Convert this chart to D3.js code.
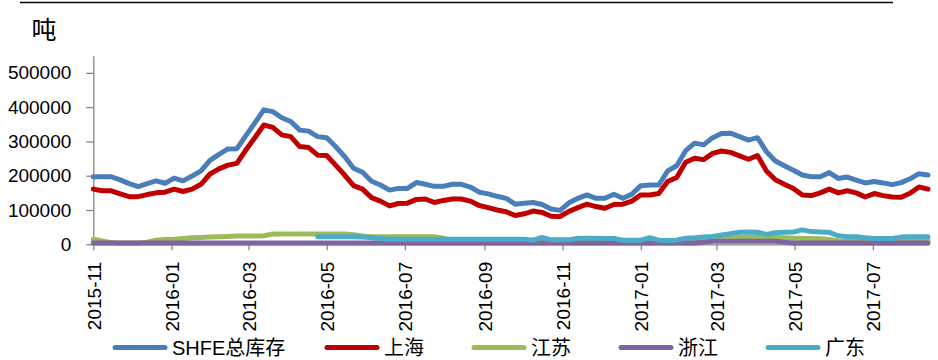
<!DOCTYPE html>
<html>
<head>
<meta charset="utf-8">
<script src="https://cdn.jsdelivr.net/npm/d3@7/dist/d3.min.js"></script>
<style>
  html, body { margin: 0; padding: 0; background: #fff; }
  svg { display: block; }
</style>
</head>
<body>
<svg id="chart" width="938" height="360"></svg>
<script>
// Weekly copper warehouse stocks (tonnes), first report 2015-11-06
const firstReport = "2015-11-06";

const seriesNames = ["SHFE总库存", "上海", "江苏", "浙江", "广东"];

const shfeTotal = [
  197000, 197000, 197000, 188000, 177000, 168000, 177000, 185000, 178000, 193000,
  185000, 199000, 214000, 245000, 262000, 278000, 279000, 317000, 354000, 392000,
  387000, 369000, 358000, 333000, 330000, 314000, 311000, 285000, 256000, 222000,
  210000, 184000, 173000, 158000, 163000, 163000, 180000, 175000, 169000, 169000,
  175000, 175000, 167000, 152000, 147000, 140000, 134000, 117000, 120000, 122000,
  116000, 103000, 99000, 121000, 134000, 144000, 134000, 134000, 146000, 134000,
  146000, 171000, 173000, 173000, 214000, 229000, 273000, 295000, 290000, 311000,
  323000, 324000, 314000, 304000, 311000, 270000, 243000, 229000, 216000, 202000,
  197000, 197000, 209000, 192000, 196000, 187000, 179000, 183000, 179000, 174000,
  180000, 191000, 206000, 202000
];

const shanghai = [
  161000, 156000, 156000, 147000, 139000, 139000, 145000, 150000, 152000, 161000,
  154000, 161000, 175000, 205000, 220000, 231000, 236000, 275000, 311000, 348000,
  341000, 319000, 314000, 285000, 282000, 260000, 259000, 231000, 202000, 171000,
  161000, 136000, 126000, 112000, 119000, 120000, 131000, 132000, 122000, 128000,
  132000, 132000, 126000, 113000, 107000, 100000, 95000, 84000, 89000, 97000,
  93000, 82000, 81000, 96000, 107000, 117000, 110000, 105000, 116000, 117000,
  126000, 144000, 144000, 148000, 183000, 195000, 239000, 251000, 247000, 265000,
  272000, 268000, 258000, 248000, 259000, 214000, 188000, 175000, 163000, 144000,
  142000, 150000, 161000, 150000, 156000, 150000, 138000, 148000, 142000, 138000,
  137000, 149000, 167000, 161000
];

const jiangsu = [
  15000, 10000, 5000, 4000, 4000, 4000, 6000, 12000, 14000, 15000,
  17000, 19000, 20000, 21000, 22000, 23000, 24000, 24000, 24000, 25000,
  30000, 30000, 30000, 30000, 30000, 30000, 30000, 30000, 30000, 28000,
  24000, 22000, 22000, 22000, 22000, 22000, 22000, 22000, 22000, 18000,
  10000, 10000, 10000, 10000, 10000, 10000, 10000, 10000, 10000, 10000,
  10000, 10000, 10000, 10000, 10000, 10000, 10000, 10000, 10000, 10000,
  10000, 10000, 10000, 10000, 10000, 10000, 10000, 10000, 10000, 12000,
  15000, 18000, 20000, 21000, 21000, 20000, 20000, 19000, 18000, 17000,
  17000, 16000, 14000, 10000, 8000, 8000, 8000, 8000, 8000, 10000,
  11000, 11000, 11000, 11000
];

const zhejiang = [
  4000, 4000, 4000, 4000, 4000, 4000, 4000, 4000, 4000, 4000,
  4000, 4000, 4000, 4000, 4000, 4000, 4000, 4000, 4000, 4000,
  4000, 4000, 4000, 4000, 4000, 4000, 4000, 4000, 4000, 4000,
  4000, 4000, 4000, 4000, 4000, 4000, 4000, 4000, 4000, 4000,
  4000, 4000, 4000, 4000, 4000, 4000, 4000, 4000, 4000, 4000,
  4000, 4000, 4000, 4000, 4000, 4000, 4000, 4000, 4000, 4000,
  4000, 4000, 4000, 4000, 4000, 4000, 4000, 4000, 6000, 9000,
  9000, 9000, 9000, 9000, 9000, 9000, 9000, 6000, 4000, 4000,
  4000, 4000, 4000, 4000, 4000, 4000, 4000, 4000, 4000, 4000,
  4000, 4000, 4000, 4000
];

// Guangdong reporting starts in May 2016
const guangdong = [
  null, null, null, null, null, null, null, null, null, null,
  null, null, null, null, null, null, null, null, null, null,
  null, null, null, null, null, 22000, 22000, 22000, 22000, 22000,
  21000, 19000, 17000, 15000, 15000, 15000, 15000, 15000, 15000, 15000,
  15000, 15000, 15000, 15000, 15000, 15000, 15000, 15000, 15000, 12000,
  20000, 13000, 13000, 13000, 18000, 18000, 18000, 17000, 17000, 12000,
  12000, 12000, 19000, 12000, 11000, 12000, 18000, 19000, 21000, 23000,
  27000, 31000, 35000, 36000, 35000, 29000, 34000, 35000, 36000, 42000,
  37000, 36000, 35000, 25000, 22000, 22000, 19000, 17000, 17000, 17000,
  21000, 22000, 22000, 22000
];

const yTickValues = [0, 100000, 200000, 300000, 400000, 500000];
const xTickLabels = ["2015-11", "2016-01", "2016-03", "2016-05", "2016-07", "2016-09",
                     "2016-11", "2017-01", "2017-03", "2017-05", "2017-07"];
const seriesColors = ["#4A7EBB", "#C00000", "#9BBB59", "#8064A2", "#4BACC6"];

const unitLabel = "吨";

// ---- layout ----
const svg = d3.select("#chart");
const latinFont = "'Liberation Sans', Arial, 'Noto Sans CJK SC', sans-serif";
const cjkFont = "'Liberation Sans', 'Noto Sans CJK SC', sans-serif";

const start = d3.timeParse("%Y-%m-%d")(firstReport);
const dates = shfeTotal.map((_, i) => d3.timeDay.offset(start, 7 * i));

const x = d3.scaleTime()
  .domain([dates[0], dates[dates.length - 1]])
  .range([93.3, 928]);

const y = d3.scaleLinear()
  .domain([0, 550000])
  .range([244.3, 55.7]);

// header rule
svg.append("line")
  .attr("x1", 20).attr("x2", 893)
  .attr("y1", 2.5).attr("y2", 2.5)
  .attr("stroke", "#000").attr("stroke-width", 1.5);

// unit
svg.append("text")
  .attr("x", 44).attr("y", 39)
  .attr("text-anchor", "middle")
  .attr("font-family", cjkFont)
  .attr("font-size", 25)
  .attr("fill", "#000")
  .text(unitLabel);

// y axis
const yAxis = svg.append("g")
  .attr("transform", "translate(93.3,0)")
  .call(d3.axisLeft(y)
    .tickValues(yTickValues)
    .tickFormat(d3.format("d"))
    .tickSize(7)
    .tickSizeOuter(0)
    .tickPadding(15));
yAxis.selectAll("path, line").attr("stroke", "#868686").attr("stroke-width", 1.3);
yAxis.selectAll("text")
  .attr("font-family", latinFont)
  .attr("font-size", 19)
  .attr("fill", "#000");

// x axis
const xTickDates = xTickLabels.map((_, i) => d3.timeMonth.offset(dates[0], 2 * i));
const xAxis = svg.append("g")
  .attr("transform", "translate(0,244.3)")
  .call(d3.axisBottom(x)
    .tickValues(xTickDates)
    .tickFormat((d, i) => xTickLabels[i])
    .tickSize(6)
    .tickSizeOuter(0));
xAxis.selectAll("path, line").attr("stroke", "#868686").attr("stroke-width", 1.3);
xAxis.selectAll("text")
  .attr("font-family", latinFont)
  .attr("font-size", 19)
  .attr("fill", "#000")
  .attr("transform", "rotate(-90)")
  .attr("text-anchor", "end")
  .attr("x", -17.5)
  .attr("y", 0)
  .attr("dy", "0.36em");

// series lines
const allSeries = [shfeTotal, shanghai, jiangsu, zhejiang, guangdong];
const line = d3.line()
  .defined(d => d != null)
  .x((d, i) => x(dates[i]))
  .y(d => y(d));

svg.append("g")
  .selectAll("path")
  .data(allSeries)
  .join("path")
  .attr("d", d => line(d))
  .attr("fill", "none")
  .attr("stroke", (d, i) => seriesColors[i])
  .attr("stroke-width", 5)
  .attr("stroke-linejoin", "round")
  .attr("stroke-linecap", "round");

// legend
const legendStarts = [115, 327, 474, 621, 768];
const legendY = 347.5;
const legend = svg.append("g")
  .selectAll("g")
  .data(seriesNames)
  .join("g")
  .attr("transform", (d, i) => `translate(${legendStarts[i]},${legendY})`);
legend.append("line")
  .attr("x1", 0).attr("x2", 50)
  .attr("y1", 0).attr("y2", 0)
  .attr("stroke", (d, i) => seriesColors[i])
  .attr("stroke-width", 5)
  .attr("stroke-linecap", "round");
legend.append("text")
  .attr("x", 57)
  .attr("y", 0)
  .attr("dy", "0.36em")
  .attr("font-family", cjkFont)
  .attr("font-size", 20)
  .attr("fill", "#000")
  .text(d => d);
</script>
</body>
</html>
